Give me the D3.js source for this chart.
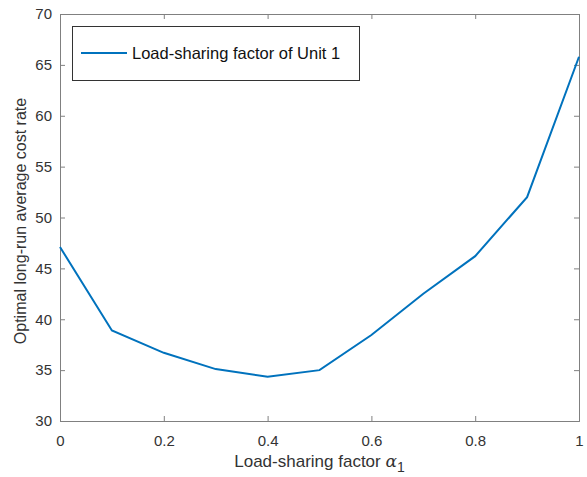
<!DOCTYPE html>
<html>
<head>
<meta charset="utf-8">
<script src="https://d3js.org/d3.v7.min.js"></script>
<style>
  body { margin: 0; background: #fff; }
  svg { display: block; font-family: "Liberation Sans", Arial, sans-serif; }
  .tick text { fill: #333; font-size: 15px; }
  .domain, .tick line { stroke: #808080; }
</style>
</head>
<body>
<div id="holder"></div>
<script>
  // Data
  const alphaValues = [0, 0.1, 0.2, 0.3, 0.4, 0.5, 0.6, 0.7, 0.8, 0.9, 1];
  const costRates = [47.1, 38.9, 36.7, 35.1, 34.35, 35.0, 38.45, 42.5, 46.2, 52.0, 65.8];
  const xTicks = [0, 0.2, 0.4, 0.6, 0.8, 1];
  const yTicks = [30, 35, 40, 45, 50, 55, 60, 65, 70];
  const seriesName = 'Load-sharing factor of Unit 1';

  const w = 587;
  const h = 477;
  const plotLeft = 60, plotRight = 579, plotTop = 14, plotBottom = 421;

  const xScale = d3.scaleLinear().domain([0, 1]).range([plotLeft, plotRight]);
  const yScale = d3.scaleLinear().domain([30, 70]).range([plotBottom, plotTop]);

  const svg = d3.select('#holder').append('svg')
    .attr('width', w)
    .attr('height', h);

  // Axes (ticks point inward, box on all four sides)
  svg.append('g')
    .attr('transform', 'translate(0,' + plotBottom + ')')
    .call(d3.axisBottom(xScale).tickValues(xTicks).tickSize(-5).tickPadding(14).tickFormat(d3.format('')));

  svg.append('g')
    .attr('transform', 'translate(0,' + plotTop + ')')
    .call(d3.axisTop(xScale).tickValues(xTicks).tickSize(-5).tickFormat(''));

  svg.append('g')
    .attr('transform', 'translate(' + plotLeft + ',0)')
    .call(d3.axisLeft(yScale).tickValues(yTicks).tickSize(-5).tickPadding(8));

  svg.append('g')
    .attr('transform', 'translate(' + plotRight + ',0)')
    .call(d3.axisRight(yScale).tickValues(yTicks).tickSize(-5).tickFormat(''));

  svg.selectAll('.domain').attr('stroke', '#808080');

  // Line
  const line = d3.line()
    .x((d, i) => xScale(alphaValues[i]))
    .y((d) => yScale(d));

  svg.append('path')
    .datum(costRates)
    .attr('fill', 'none')
    .attr('stroke', '#0072BD')
    .attr('stroke-width', 2)
    .attr('d', line);

  // Legend
  const legend = svg.append('g');
  legend.append('rect')
    .attr('x', 72.5).attr('y', 26.5)
    .attr('width', 287).attr('height', 54)
    .attr('fill', '#fff')
    .attr('stroke', '#333')
    .attr('stroke-width', 1);
  legend.append('line')
    .attr('x1', 81).attr('x2', 127)
    .attr('y1', 53).attr('y2', 53)
    .attr('stroke', '#0072BD')
    .attr('stroke-width', 2);
  legend.append('text')
    .attr('x', 132).attr('y', 59)
    .attr('font-size', 16.5)
    .attr('fill', '#111')
    .text(seriesName);

  // Labels
  const xLabel = svg.append('text')
    .attr('x', (plotLeft + plotRight) / 2)
    .attr('y', 467)
    .attr('text-anchor', 'middle')
    .attr('font-size', 17)
    .attr('fill', '#333')
    .text('Load-sharing factor ');
  xLabel.append('tspan')
    .attr('font-family', '"DejaVu Serif", serif')
    .attr('font-style', 'italic')
    .text('α');
  xLabel.append('tspan')
    .attr('dy', 5)
    .attr('font-size', 14)
    .text('1');

  svg.append('text')
    .attr('transform', 'rotate(-90)')
    .attr('x', -221)
    .attr('y', 26)
    .attr('text-anchor', 'middle')
    .attr('font-size', 16)
    .attr('fill', '#333')
    .text('Optimal long-run average cost rate');
</script>
</body>
</html>
